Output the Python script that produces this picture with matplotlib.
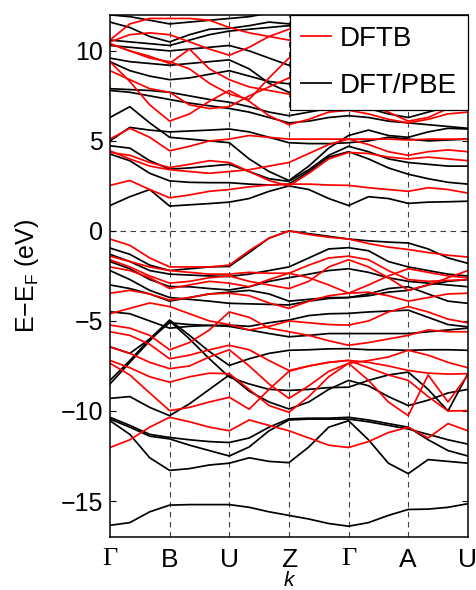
import numpy as np
import matplotlib.pyplot as plt

plt.rcParams['font.family'] = ['Liberation Sans', 'DejaVu Sans']

# high-symmetry points of the path
kp_labels = ['Γ', 'B', 'U', 'Z', 'Γ', 'A', 'U']
# every band is sampled at thirds of each of the 6 segments (19 points)
kpath = np.linspace(0, 6, 19)

# DFT/PBE bands (eV, relative to E_F)
dft_bands = [
    [-16.35, -16.2, -15.6, -15.23, -15.2, -15.2, -15.2, -15.35, -15.6, -15.8, -16.0, -16.25, -16.4, -16.2, -15.8, -15.47, -15.45, -15.35, -15.15],
    [-10.54, -11.3, -12.6, -13.3, -13.2, -13.0, -12.9, -12.6, -12.8, -12.87, -12.0, -10.9, -10.54, -11.6, -12.9, -13.48, -12.7, -12.8, -12.9],
    [-10.45, -10.9, -11.4, -11.55, -11.9, -12.2, -12.5, -12.0, -11.1, -10.5, -10.45, -10.45, -10.45, -10.6, -10.8, -11.0, -11.3, -11.6, -11.84],
    [-10.35, -10.8, -11.3, -11.47, -11.6, -11.7, -11.75, -11.5, -10.9, -10.44, -10.4, -10.4, -10.35, -10.5, -10.7, -10.9, -11.6, -12.2, -12.5],
    [-9.3, -9.2, -9.8, -10.26, -9.6, -8.8, -8.0, -8.9, -9.5, -9.89, -9.5, -8.8, -8.3, -8.6, -9.2, -9.7, -9.4, -9.0, -8.8],
    [-8.5, -7.3, -6.1, -5.0, -6.0, -7.1, -8.12, -8.5, -8.8, -8.86, -8.8, -8.7, -8.68, -8.3, -8.0, -7.84, -8.8, -10.0, -7.93],
    [-8.3, -7.2, -6.0, -4.95, -5.8, -6.7, -7.47, -7.1, -6.8, -6.63, -6.6, -6.55, -6.54, -6.6, -6.6, -6.63, -6.6, -6.6, -6.63],
    [-6.44, -6.8, -6.0, -5.1, -5.2, -5.25, -5.3, -5.5, -5.7, -5.88, -5.8, -5.7, -5.7, -5.7, -5.7, -5.7, -5.6, -5.5, -5.4],
    [-4.49, -4.6, -5.0, -5.4, -5.3, -5.25, -5.23, -5.3, -5.1, -4.95, -4.7, -4.6, -4.58, -4.5, -4.45, -4.4, -4.8, -5.2, -5.33],
    [-3.0, -3.2, -3.5, -3.9, -3.7, -3.5, -3.4, -3.3, -3.5, -3.9, -3.8, -3.7, -3.7, -3.6, -3.4, -3.3, -3.0, -2.8, -2.7],
    [-2.2, -2.7, -3.3, -3.7, -3.8, -3.9, -4.02, -4.05, -4.08, -4.11, -3.9, -3.75, -3.7, -3.5, -3.2, -3.1, -3.5, -3.9, -4.02],
    [-1.7, -2.1, -2.7, -3.09, -3.1, -3.2, -3.28, -3.1, -2.8, -2.6, -2.4, -2.2, -2.1, -2.3, -2.6, -2.8, -2.9, -3.0, -3.1],
    [-1.3, -1.7, -2.2, -2.4, -2.45, -2.5, -2.53, -2.4, -2.2, -2.0, -1.5, -1.0, -0.93, -1.1, -1.7, -2.0, -2.2, -2.4, -2.5],
    [-0.95, -1.3, -1.9, -2.2, -2.1, -2.0, -1.97, -1.2, -0.4, 0.0, -0.15, -0.3, -0.45, -0.55, -0.62, -0.67, -1.0, -1.5, -1.8],
    [1.41, 1.9, 2.3, 1.38, 1.45, 1.52, 1.6, 1.8, 2.2, 2.5, 2.3, 1.8, 1.41, 1.9, 1.8, 1.53, 1.6, 1.62, 1.65],
    [4.27, 3.9, 3.2, 2.78, 2.7, 2.68, 2.68, 2.6, 2.55, 2.6, 3.3, 4.1, 4.4, 4.0, 3.5, 3.15, 2.9, 2.7, 2.6],
    [4.73, 4.6, 3.9, 3.43, 3.5, 3.6, 3.7, 3.3, 2.9, 2.75, 3.4, 4.2, 4.7, 4.4, 4.0, 3.8, 3.7, 3.6, 3.6],
    [5.0, 5.75, 5.6, 5.5, 5.55, 5.6, 5.66, 5.5, 5.2, 4.9, 4.85, 4.85, 4.9, 5.0, 5.2, 5.1, 5.0, 5.05, 5.1],
    [6.3, 6.9, 6.0, 5.2, 5.1, 5.0, 4.9, 4.0, 3.3, 2.8, 3.6, 4.6, 5.3, 5.6, 5.3, 5.2, 5.5, 5.7, 5.66],
    [7.8, 7.7, 7.5, 7.3, 7.1, 6.95, 6.8, 6.6, 6.3, 6.0, 6.1, 6.3, 6.4, 6.3, 6.1, 6.0, 5.9, 5.8, 5.7],
    [7.9, 7.85, 7.8, 7.7, 7.5, 7.3, 7.15, 6.9, 6.6, 6.4, 6.6, 6.8, 6.9, 6.8, 6.5, 6.3, 6.6, 6.9, 7.0],
    [9.4, 8.9, 8.6, 8.4, 8.5, 8.7, 8.9, 8.6, 8.3, 8.17, 8.0, 7.5, 7.0, 7.3, 7.6, 7.6, 7.5, 7.4, 7.3],
    [9.6, 9.4, 9.3, 9.2, 9.3, 9.4, 9.5, 9.0, 8.2, 7.7, 7.9, 8.3, 8.5, 8.6, 8.5, 8.4, 8.6, 8.8, 9.0],
    [10.3, 10.2, 10.1, 10.0, 10.1, 10.2, 10.3, 10.0, 9.6, 9.2, 9.5, 9.8, 10.0, 9.9, 9.8, 9.9, 10.1, 10.3, 10.4],
    [10.6, 10.5, 10.4, 10.3, 10.6, 10.9, 11.1, 11.2, 11.3, 11.4, 11.0, 10.8, 10.7, 10.6, 10.7, 10.8, 11.0, 11.2, 11.3],
    [11.6, 11.3, 10.8, 10.5, 10.9, 11.2, 11.25, 11.4, 11.6, 11.5, 11.6, 11.8, 11.9, 11.7, 11.5, 11.3, 11.5, 11.7, 11.8],
    [12.0, 11.9, 11.7, 11.5, 11.6, 11.7, 11.8, 11.9, 12.1, 12.2, 12.2, 12.2, 12.2, 12.2, 12.1, 12.0, 12.1, 12.2, 12.2],
]

# DFTB bands (eV, relative to E_F)
dftb_bands = [
    [-12.03, -11.6, -10.9, -10.35, -10.6, -10.9, -11.1, -10.5, -10.8, -11.1, -11.5, -11.9, -12.03, -11.7, -11.2, -10.9, -11.5, -10.7, -11.1],
    [-7.35, -8.0, -9.0, -9.98, -9.8, -9.5, -9.24, -9.9, -8.8, -7.8, -7.5, -7.3, -7.19, -7.6, -8.0, -8.3, -9.2, -10.0, -9.98],
    [-7.19, -7.6, -8.1, -8.4, -8.1, -7.9, -7.93, -8.8, -9.7, -10.07, -9.2, -8.1, -7.35, -8.3, -9.5, -10.26, -8.0, -9.5, -8.0],
    [-6.44, -6.8, -7.3, -7.65, -7.5, -7.0, -6.6, -7.5, -8.5, -9.3, -8.6, -7.8, -7.35, -7.2, -7.0, -6.63, -6.9, -7.3, -7.6],
    [-5.6, -5.8, -6.3, -7.1, -6.9, -6.6, -6.35, -6.6, -7.2, -7.75, -7.5, -7.3, -7.19, -7.3, -7.5, -7.75, -7.9, -7.95, -7.93],
    [-5.23, -5.4, -5.8, -6.6, -6.2, -5.5, -4.5, -4.8, -5.4, -5.6, -5.8, -6.1, -6.35, -6.2, -6.0, -5.8, -5.5, -5.6, -5.6],
    [-4.6, -4.3, -4.0, -4.2, -4.6, -5.0, -5.2, -5.5, -5.3, -5.0, -5.1, -5.2, -5.23, -5.0, -4.5, -4.2, -4.5, -4.9, -5.1],
    [-3.46, -3.3, -3.5, -3.84, -3.7, -3.5, -3.46, -3.6, -4.0, -4.3, -3.9, -3.6, -3.46, -3.4, -3.6, -3.9, -3.7, -3.5, -3.46],
    [-2.0, -2.2, -2.6, -3.2, -3.0, -2.8, -2.9, -3.1, -2.7, -2.35, -2.6, -3.0, -3.46, -3.0, -2.5, -2.1, -2.3, -2.5, -2.6],
    [-1.6, -2.0, -2.5, -2.9, -2.8, -2.6, -2.5, -2.8, -3.0, -3.2, -2.8, -2.0, -1.6, -2.0, -2.6, -3.3, -3.0, -2.6, -2.2],
    [-1.4, -1.7, -2.0, -2.2, -2.3, -2.4, -2.4, -2.3, -2.35, -2.35, -1.9, -1.5, -1.4, -1.6, -2.2, -2.7, -2.8, -2.75, -2.7],
    [-0.45, -0.8, -1.5, -2.0, -2.0, -2.0, -1.9, -1.1, -0.4, 0.0, -0.2, -0.35, -0.45, -0.7, -0.9, -1.03, -1.2, -1.35, -1.45],
    [2.53, 2.8, 2.3, 1.84, 2.0, 2.2, 2.3, 2.45, 2.55, 2.6, 2.6, 2.55, 2.53, 2.4, 2.3, 2.2, 2.4, 2.3, 2.1],
    [4.36, 4.2, 3.8, 3.52, 3.7, 3.9, 3.8, 3.3, 2.8, 2.5, 3.2, 4.0, 4.36, 4.3, 4.1, 4.0, 4.1, 4.0, 3.9],
    [4.45, 4.0, 3.6, 3.4, 3.3, 3.2, 3.3, 3.4, 3.6, 3.8, 4.3, 4.8, 5.1, 4.8, 4.4, 4.2, 4.4, 4.5, 4.4],
    [5.1, 5.7, 5.2, 4.45, 4.7, 5.0, 5.1, 5.3, 5.2, 5.1, 5.1, 5.1, 5.1, 5.1, 5.1, 5.05, 5.1, 5.1, 5.1],
    [9.4, 8.3, 7.0, 6.1, 6.5, 7.2, 7.8, 7.2, 6.4, 5.9, 6.2, 6.6, 6.7, 6.5, 6.2, 6.0, 6.2, 6.5, 6.6],
    [8.9, 8.4, 7.9, 7.7, 7.0, 6.8, 6.9, 7.5, 8.0, 8.5, 8.0, 7.5, 7.2, 7.0, 6.6, 6.1, 6.3, 6.8, 7.2],
    [10.4, 10.0, 9.6, 9.4, 9.0, 8.2, 7.6, 7.3, 8.5, 9.6, 9.6, 9.7, 9.8, 9.5, 9.0, 8.5, 8.0, 7.8, 7.7],
    [10.4, 10.0, 9.7, 9.3, 10.1, 9.0, 8.4, 8.0, 7.8, 7.6, 7.8, 8.0, 8.2, 8.3, 8.0, 7.8, 8.1, 8.5, 8.8],
    [10.6, 11.5, 11.8, 11.8, 11.8, 11.7, 11.3, 11.0, 10.8, 10.6, 10.8, 11.0, 11.2, 11.3, 11.2, 11.0, 10.8, 10.9, 11.0],
    [10.5, 10.9, 11.0, 10.9, 10.5, 10.1, 9.76, 10.2, 10.8, 11.2, 11.5, 11.6, 11.6, 11.4, 11.2, 11.3, 11.5, 11.6, 11.7],
]

fig = plt.figure(figsize=(4.76, 5.9), dpi=100)
ax = fig.add_axes([0.231, 0.0898, 0.752, 0.885])

for band in dft_bands:
    l_dft, = ax.plot(kpath, band, color='black', lw=1.25)
for band in dftb_bands:
    l_dftb, = ax.plot(kpath, band, color='red', lw=1.25)

# high symmetry lines and Fermi level
for xk in range(1, 6):
    ax.axvline(xk, color='0.25', lw=0.8, dashes=(5, 4), zorder=0.5)
ax.axhline(0, color='0.25', lw=0.8, dashes=(5, 4), zorder=0.5)

ax.set_xlim(0, 6)
ax.set_ylim(-17, 12)
ax.set_yticks([-15, -10, -5, 0, 5, 10])
ax.set_xticks(range(7))
ax.set_xticklabels(kp_labels)
for t in ax.get_xticklabels():
    if t.get_text() == 'Γ':
        t.set_fontfamily(['Liberation Serif', 'DejaVu Serif'])
ax.tick_params(axis='y', direction='in', right=True, length=4, labelsize=18, pad=5)
ax.tick_params(axis='x', length=0, labelsize=19, pad=8)
for s in ax.spines.values():
    s.set_linewidth(1.1)

# k label sits just under the Z tick label
fig.text(0.607, 0.016, 'k', style='italic', fontsize=15, ha='center', va='center')
ax.set_ylabel('E−E$_\\mathregular{F}$ (eV)', fontsize=18, labelpad=14)

leg = ax.legend([l_dftb, l_dft], ['DFTB', 'DFT/PBE'], loc='upper right',
                fontsize=20, fancybox=False, edgecolor='black', framealpha=1,
                borderaxespad=0, handlelength=1.1, handletextpad=0.3,
                labelspacing=0.75, borderpad=0.4)
leg.get_frame().set_linewidth(0.9)

fig.savefig('out.png', dpi=100)
